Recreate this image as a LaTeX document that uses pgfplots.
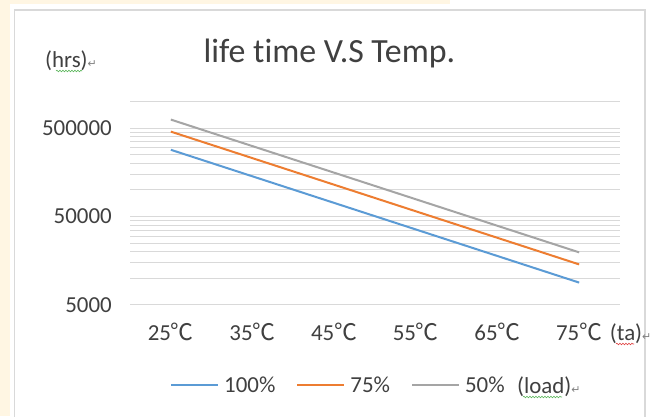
\documentclass[border=0pt]{standalone}
\usepackage{pgfplots}
\pgfplotsset{compat=1.18}
\usepackage{fontspec}
\setmainfont{Carlito}[Ligatures=NoCommon]
\newfontfamily\cjk{Noto Sans CJK SC}
\newfontfamily\dejavu{DejaVu Sans}
\usetikzlibrary{decorations.pathmorphing}
\definecolor{cream}{HTML}{FFF6E3}
\definecolor{gridc}{HTML}{D9D9D9}
\definecolor{bordc}{HTML}{D9D9D9}
\definecolor{s1}{HTML}{5B9BD5}
\definecolor{s2}{HTML}{ED7D31}
\definecolor{s3}{HTML}{A5A5A5}
\definecolor{txt}{HTML}{404040}
\definecolor{wgreen}{HTML}{5DB85D}
\definecolor{wred}{HTML}{E04040}
\newcommand{\dc}{{\cjk ℃}}
\newcommand{\ret}{{\dejavu\fontsize{11}{12}\selectfont\textcolor{gray}{↵}}}
\begin{document}
\begin{tikzpicture}[x=1bp,y=1bp]
\path[use as bounding box] (0,0) rectangle (656,416);
\fill[white] (0,0) rectangle (656,416);
\fill[cream] (0,0) rectangle (10,416);
\fill[cream] (0,412) rectangle (450,416);
\draw[bordc, line width=1.5bp] (14.5,-5) -- (14.5,406) -- (645,406) -- (645,-5);
\begin{axis}[
  at={(130bp,111.3bp)}, anchor=south west, scale only axis,
  width=490bp, height=203bp,
  ymode=log, ymin=5000, ymax=1000000, xmin=-0.5, xmax=5.5,
  xtick={0,1,2,3,4,5},
  xticklabels={25\dc,35\dc,45\dc,55\dc,65\dc,75\dc},
  ytick={5000,50000,500000},
  yticklabels={5000,50000,500000},
  minor ytick={10000,15000,20000,25000,30000,35000,40000,45000,100000,150000,200000,250000,300000,350000,400000,450000,1000000},
  ymajorgrids, yminorgrids,
  major grid style={gridc, line width=0.9bp},
  minor grid style={gridc, line width=0.9bp},
  axis line style={draw=none}, tick style={draw=none},
  ticklabel style={font=\fontsize{23}{26}\selectfont, text=txt},
  yticklabel style={anchor=east, inner sep=0pt, xshift=-18bp},
  xticklabel style={anchor=base, inner sep=0pt, yshift=-36bp},
  legend style={draw=none, fill=none, at={(0.0816,-0.397)}, anchor=west,
    font=\fontsize{23}{26}\selectfont, text=txt, inner sep=0pt,
    legend columns=-1,
    /tikz/every odd column/.append style={column sep=5bp},
    /tikz/every even column/.append style={column sep=21bp},
    nodes={inner sep=0pt}},
  legend image code/.code={\draw[#1] (0bp,0bp) -- (47bp,0bp);},
  legend cell align=left,
]
\addplot[s1, line width=2bp] coordinates {(0,285000)(1,142500)(2,71250)(3,35625)(4,17812)(5,8906)};
\addplot[s2, line width=2bp] coordinates {(0,458000)(1,229000)(2,114500)(3,57250)(4,28625)(5,14312)};
\addplot[s3, line width=2bp] coordinates {(0,627000)(1,313500)(2,156750)(3,78375)(4,39187)(5,19594)};
\legend{100\%,75\%,50\%}
\end{axis}
\node[anchor=base, font=\fontsize{34}{37}\selectfont, text=txt] at (329.5,354) {life time V.S Temp.};
\node[anchor=base west, inner sep=0pt, font=\fontsize{23}{26}\selectfont, text=txt] at (45,349) {(hrs)\ret};
\node[anchor=base west, inner sep=0pt, font=\fontsize{23}{26}\selectfont, text=txt] at (609.7,76) {(ta)\ret};
\node[anchor=base west, inner sep=0pt, font=\fontsize{23}{26}\selectfont, text=txt] at (517,23) {(load)\ret};
\draw[wgreen, line width=0.6bp, decorate, decoration={snake, amplitude=0.8bp, segment length=3bp}] (56,345) -- (82,345);
\draw[wred, line width=0.6bp, decorate, decoration={snake, amplitude=0.8bp, segment length=3bp}] (616,72) -- (634,72);
\draw[wgreen, line width=0.6bp, decorate, decoration={snake, amplitude=0.8bp, segment length=3bp}] (523,19) -- (562,19);
\end{tikzpicture}
\end{document}
